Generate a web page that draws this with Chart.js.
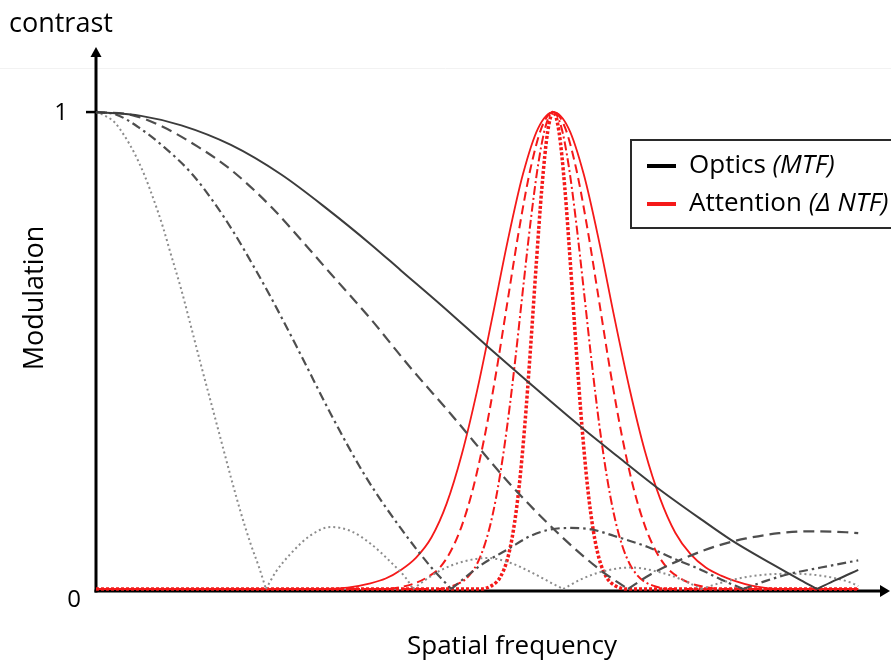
<!DOCTYPE html>
<html>
<head>
<meta charset="utf-8">
<script src="https://cdn.jsdelivr.net/npm/chart.js@4.4.1/dist/chart.umd.min.js"></script>
<style>
  html, body { margin: 0; padding: 0; background: #fff; }
  canvas { display: block; }
</style>
</head>
<body>
<canvas id="chart" width="891" height="666"></canvas>
<script>
// Spatial frequency (arbitrary units, 0..100) and modulation for each curve.

// Optics (MTF) family, widest to narrowest
const mtfSolidX = [0, 5.9, 11.2, 17.7, 24.3, 30.4, 36.1, 40.0, 45.3, 51.4, 56.7, 63.6, 68.9, 73.5, 79.4, 83.3, 88.6, 92.5, 94.6, 97.1, 100];
const mtfSolidY = [1, 0.992, 0.972, 0.931, 0.869, 0.796, 0.722, 0.668, 0.595, 0.508, 0.434, 0.340, 0.272, 0.214, 0.146, 0.103, 0.053, 0.018, 0, 0.019, 0.040];

const mtfDashedX = [0, 4.6, 8.5, 13.4, 17.7, 23.0, 26.9, 30.8, 36.1, 41.1, 46.6, 54.1, 61.0, 66.3, 69.8, 72.8, 77.7, 81.6, 85.3, 89.6, 93.2, 98.4, 100];
const mtfDashedY = [1, 0.994, 0.971, 0.927, 0.879, 0.801, 0.732, 0.661, 0.565, 0.467, 0.366, 0.224, 0.111, 0.038, 0, 0.031, 0.068, 0.091, 0.106, 0.117, 0.121, 0.119, 0.117];

const mtfDashDotX = [0, 2.6, 5.5, 8.9, 12.5, 15.5, 18.1, 20.7, 23.0, 26.9, 30.8, 35.4, 40.0, 44.0, 46.6, 50.5, 54.1, 57.1, 59.7, 62.3, 65.0, 68.0, 72.4, 75.9, 79.4, 82.0, 84.9, 87.9, 90.8, 95.1, 100];
const mtfDashDotY = [1, 0.995, 0.969, 0.927, 0.872, 0.810, 0.747, 0.676, 0.610, 0.490, 0.367, 0.235, 0.127, 0.045, 0, 0.050, 0.084, 0.112, 0.125, 0.128, 0.125, 0.111, 0.088, 0.063, 0.040, 0.020, 0, 0.017, 0.031, 0.045, 0.060];

const mtfDottedX = [0, 0.7, 2.4, 3.7, 5.0, 6.3, 7.6, 8.8, 9.8, 11.2, 12.5, 13.8, 15.1, 16.4, 17.7, 19.0, 20.3, 21.4, 22.3, 23.6, 25.6, 28.2, 30.8, 33.5, 36.1, 38.7, 40.7, 41.6, 43.3, 45.3, 48.3, 51.4, 54.5, 57.1, 59.7, 61.3, 63.6, 66.3, 70.2, 74.0, 76.8, 79.4, 82.0, 86.0, 91.2, 95.5, 99.1, 100];
const mtfDottedY = [1, 0.996, 0.979, 0.951, 0.915, 0.870, 0.815, 0.758, 0.703, 0.627, 0.548, 0.468, 0.390, 0.312, 0.234, 0.160, 0.094, 0.045, 0, 0.036, 0.075, 0.113, 0.130, 0.121, 0.094, 0.056, 0.022, 0, 0.020, 0.040, 0.058, 0.065, 0.054, 0.035, 0.013, 0, 0.020, 0.036, 0.045, 0.035, 0.020, 0, 0.013, 0.027, 0.032, 0.027, 0.013, 0.006];

// Attention (delta NTF) family, widest to narrowest, all peaking at 60
const ntfSolidX = [0, 30, 33, 36, 38, 40, 42, 44, 46, 48, 50, 52, 54, 56, 58, 60, 62, 64, 66, 68, 70, 72, 74, 76, 78, 80, 82, 84, 86, 88, 90, 100];
const ntfSolidY = [0, 0, 0.003, 0.012, 0.022, 0.040, 0.066, 0.108, 0.179, 0.283, 0.416, 0.570, 0.729, 0.869, 0.966, 1, 0.966, 0.869, 0.729, 0.570, 0.420, 0.290, 0.190, 0.118, 0.073, 0.045, 0.028, 0.016, 0.007, 0.002, 0, 0];

const ntfDashedX = [0, 38, 40, 42, 43.5, 45, 46.5, 48, 49.5, 51, 52.5, 54, 55.5, 57, 58.5, 60, 61.5, 63, 64.5, 66, 67.5, 69, 70.5, 72, 73.5, 75, 76.5, 78, 80, 82, 100];
const ntfDashedY = [0, 0, 0.004, 0.013, 0.025, 0.043, 0.078, 0.133, 0.213, 0.321, 0.454, 0.604, 0.753, 0.881, 0.969, 1, 0.969, 0.881, 0.753, 0.604, 0.454, 0.321, 0.213, 0.133, 0.078, 0.043, 0.024, 0.012, 0.004, 0, 0];

const ntfDashDotX = [0, 45, 46.5, 48, 49, 50, 51, 52, 53, 54, 55, 56, 57, 58, 59, 60, 61, 62, 63, 64, 65, 66, 67, 68, 69, 70, 71, 72, 73.5, 75, 100];
const ntfDashDotY = [0, 0, 0.005, 0.015, 0.029, 0.053, 0.093, 0.153, 0.238, 0.348, 0.480, 0.626, 0.768, 0.889, 0.971, 1, 0.971, 0.889, 0.768, 0.626, 0.480, 0.348, 0.238, 0.153, 0.093, 0.053, 0.029, 0.015, 0.005, 0, 0];

const ntfDottedX = [0, 50.5, 52, 53, 54, 54.75, 55.5, 56.25, 57, 57.75, 58.5, 59.25, 60, 60.75, 61.5, 62.25, 63, 63.75, 64.5, 65.25, 66, 67, 68, 69.5, 100];
const ntfDottedY = [0, 0, 0.008, 0.024, 0.064, 0.122, 0.213, 0.342, 0.503, 0.679, 0.842, 0.958, 1, 0.958, 0.842, 0.679, 0.503, 0.342, 0.213, 0.122, 0.064, 0.024, 0.008, 0, 0];

// Axis and legend text
const yTickValues = [0, 1];
const yTickLabels = ['0', '1'];
const yAxisTop = 'contrast';
const yAxisTitle = 'Modulation';
const xAxisTitle = 'Spatial frequency';
const legendNames = ['Optics ', 'Attention '];
const legendTags = ['(MTF)', '(\u0394 NTF)'];

const FONT = '"Open Sans", "Liberation Sans", sans-serif';
const RED = 'rgb(245, 25, 25)';

// Pair x/y arrays into points; a zero between two positive values is a
// cusp of |f|, so the line is split there to keep the V shape sharp.
function toPoints(xs, ys) {
  const pts = [];
  for (let i = 0; i < xs.length; i++) {
    pts.push({ x: xs[i], y: ys[i] });
    if (ys[i] === 0 && i > 0 && i < xs.length - 1 && ys[i - 1] > 0 && ys[i + 1] > 0) {
      pts.push({ x: xs[i], y: null });
      pts.push({ x: xs[i], y: 0 });
    }
  }
  return pts;
}

function series(xs, ys, color, width, dash) {
  return {
    data: toPoints(xs, ys),
    borderColor: color,
    borderWidth: width,
    borderDash: dash,
    spanGaps: false,
    clip: 8,
    pointRadius: 0,
    cubicInterpolationMode: 'monotone'
  };
}

const datasets = [
  series(mtfSolidX, mtfSolidY, '#3c3c3c', 2, []),
  series(mtfDashedX, mtfDashedY, '#4e4e4e', 2.2, [11, 6]),
  series(mtfDashDotX, mtfDashDotY, '#4e4e4e', 2.2, [9, 4, 2.5, 4]),
  series(mtfDottedX, mtfDottedY, '#8c8c8c', 2, [2, 3]),
  series(ntfSolidX, ntfSolidY, RED, 1.8, []),
  series(ntfDashedX, ntfDashedY, RED, 2, [9, 5]),
  series(ntfDashDotX, ntfDashDotY, RED, 2, [9, 3, 2, 3]),
  series(ntfDottedX, ntfDottedY, RED, 3.5, [3, 2])
];

const decor = {
  id: 'decor',
  beforeDatasetsDraw(chart) {
    const { ctx, chartArea: a, scales: { x, y } } = chart;
    const ox = x.getPixelForValue(0);
    const oy = y.getPixelForValue(0) + 2;
    ctx.save();
    // faint rule near the top edge
    ctx.strokeStyle = '#f2f2f2';
    ctx.lineWidth = 1;
    ctx.beginPath(); ctx.moveTo(0, 68.5); ctx.lineTo(chart.width, 68.5); ctx.stroke();

    ctx.strokeStyle = '#000';
    ctx.fillStyle = '#000';
    ctx.lineWidth = 3;
    // vertical axis with arrow
    ctx.beginPath(); ctx.moveTo(ox, oy + 1.5); ctx.lineTo(ox, a.top + 14); ctx.stroke();
    ctx.beginPath();
    ctx.moveTo(ox, a.top + 6); ctx.lineTo(ox - 5.5, a.top + 16); ctx.lineTo(ox + 5.5, a.top + 16);
    ctx.closePath(); ctx.fill();
    // horizontal axis with arrow
    ctx.beginPath(); ctx.moveTo(ox - 1.5, oy); ctx.lineTo(a.right - 9, oy); ctx.stroke();
    ctx.beginPath();
    ctx.moveTo(a.right - 1, oy); ctx.lineTo(a.right - 11, oy - 6); ctx.lineTo(a.right - 11, oy + 6);
    ctx.closePath(); ctx.fill();

    // tick labels on the modulation axis
    ctx.font = '24px ' + FONT;
    ctx.textBaseline = 'middle';
    yTickValues.forEach((v, i) => {
      const py = y.getPixelForValue(v);
      if (v === 0) {
        ctx.textAlign = 'center';
        ctx.fillText(yTickLabels[i], ox - 22, py + 11);
      } else {
        ctx.lineWidth = 2.5;
        ctx.beginPath(); ctx.moveTo(ox - 10, py); ctx.lineTo(ox + 2, py); ctx.stroke();
        ctx.textAlign = 'right';
        ctx.fillText(yTickLabels[i], ox - 28, py + 1);
      }
    });
    ctx.restore();
  },
  afterDraw(chart) {
    const { ctx } = chart;
    ctx.save();
    ctx.fillStyle = '#000';

    // axis captions
    ctx.font = '27px ' + FONT;
    ctx.textAlign = 'left';
    ctx.textBaseline = 'alphabetic';
    ctx.fillText(yAxisTop, 9, 32);

    ctx.font = '26px ' + FONT;
    ctx.textAlign = 'center';
    ctx.textBaseline = 'middle';
    ctx.fillText(xAxisTitle, 512, 647);

    ctx.font = '27px ' + FONT;
    ctx.translate(35, 298);
    ctx.rotate(-Math.PI / 2);
    ctx.fillText(yAxisTitle, 0, 0);
    ctx.setTransform(1, 0, 0, 1, 0, 0);

    // legend box
    ctx.fillStyle = '#fff';
    ctx.fillRect(631, 140, 270, 88);
    ctx.strokeStyle = '#2a2a2a';
    ctx.lineWidth = 2;
    ctx.strokeRect(631, 140, 270, 88);

    const rows = [166, 204];
    const colors = ['#000', RED];
    rows.forEach((ry, i) => {
      ctx.strokeStyle = colors[i];
      ctx.lineWidth = 4;
      ctx.beginPath(); ctx.moveTo(647, ry); ctx.lineTo(676, ry); ctx.stroke();
      ctx.fillStyle = '#000';
      ctx.textAlign = 'left';
      ctx.textBaseline = 'middle';
      ctx.font = '26px ' + FONT;
      ctx.fillText(legendNames[i], 689, ry);
      const w = ctx.measureText(legendNames[i]).width;
      ctx.font = 'italic 26px ' + FONT;
      ctx.fillText(legendTags[i], 689 + w, ry);
    });
    ctx.restore();
  }
};

new Chart(document.getElementById('chart'), {
  type: 'line',
  data: { datasets },
  options: {
    responsive: false,
    animation: false,
    devicePixelRatio: 1,
    layout: { padding: { left: 96, right: 0, top: 41, bottom: 77 } },
    scales: {
      x: { type: 'linear', min: 0, max: 104.3, display: false },
      y: { type: 'linear', min: 0, max: 1.149, display: false }
    },
    plugins: { legend: { display: false }, tooltip: { enabled: false } },
    elements: { point: { radius: 0 }, line: { fill: false } }
  },
  plugins: [decor]
});
</script>
</body>
</html>
